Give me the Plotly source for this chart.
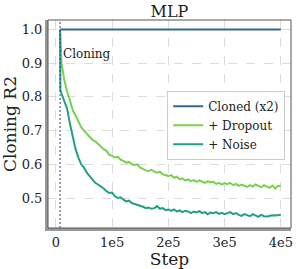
import plotly.graph_objects as go

steps_drop = [7500, 10000, 15000, 20000, 25000, 30000, 35000, 40000, 45000, 50000,
              55000, 60000, 65000, 70000, 75000, 80000, 85000, 90000, 95000, 100000,
              105000, 110000, 115000, 120000, 125000, 130000, 135000, 140000, 145000, 150000,
              155000, 160000, 165000, 170000, 175000, 180000, 185000, 190000, 195000, 200000,
              205000, 210000, 215000, 220000, 225000, 230000, 235000, 240000, 245000, 250000,
              255000, 260000, 265000, 270000, 275000, 280000, 285000, 290000, 295000, 300000,
              305000, 310000, 315000, 320000, 325000, 330000, 335000, 340000, 345000, 350000,
              355000, 360000, 365000, 370000, 375000, 380000, 385000, 390000, 395000, 400000]
dropout = [1.0, 0.90, 0.85, 0.815, 0.79, 0.76, 0.745, 0.725, 0.71, 0.70,
           0.69, 0.68, 0.672, 0.668, 0.66, 0.652, 0.645, 0.64, 0.628, 0.625,
           0.62, 0.622, 0.614, 0.61, 0.605, 0.607, 0.60, 0.598, 0.60, 0.59,
           0.585, 0.582, 0.58, 0.584, 0.578, 0.575, 0.578, 0.57, 0.568, 0.565,
           0.568, 0.56, 0.563, 0.556, 0.558, 0.552, 0.555, 0.55, 0.553, 0.548,
           0.552, 0.549, 0.545, 0.55, 0.546, 0.548, 0.542, 0.545, 0.54, 0.544,
           0.541, 0.545, 0.538, 0.542, 0.536, 0.54, 0.537, 0.533, 0.538, 0.534,
           0.54, 0.535, 0.532, 0.538, 0.533, 0.53, 0.537, 0.528, 0.536, 0.535]

steps_noise = [7500, 8000, 10000, 15000, 20000, 25000, 30000, 35000, 40000, 45000, 50000,
               55000, 60000, 65000, 70000, 75000, 80000, 85000, 90000, 95000, 100000,
               105000, 110000, 115000, 120000, 125000, 130000, 135000, 140000, 145000, 150000,
               155000, 160000, 165000, 170000, 175000, 180000, 185000, 190000, 195000, 200000,
               205000, 210000, 215000, 220000, 225000, 230000, 235000, 240000, 245000, 250000,
               255000, 260000, 265000, 270000, 275000, 280000, 285000, 290000, 295000, 300000,
               305000, 310000, 315000, 320000, 325000, 330000, 335000, 340000, 345000, 350000,
               355000, 360000, 365000, 370000, 375000, 380000, 385000, 390000, 395000, 400000]
noise = [1.0, 0.82, 0.81, 0.79, 0.765, 0.72, 0.68, 0.645, 0.62, 0.60, 0.59,
         0.575, 0.565, 0.555, 0.545, 0.54, 0.535, 0.528, 0.52, 0.515, 0.516,
         0.505, 0.50, 0.502, 0.495, 0.49, 0.492, 0.485, 0.482, 0.48, 0.478,
         0.474, 0.47, 0.472, 0.468, 0.47, 0.476, 0.468, 0.47, 0.464, 0.466,
         0.462, 0.466, 0.46, 0.463, 0.458, 0.462, 0.46, 0.455, 0.46, 0.457,
         0.461, 0.455, 0.458, 0.452, 0.457, 0.455, 0.458, 0.453, 0.456, 0.452,
         0.455, 0.458, 0.452, 0.455, 0.45, 0.447, 0.452, 0.449, 0.446, 0.452,
         0.448, 0.444, 0.45, 0.446, 0.445, 0.447, 0.449, 0.448, 0.45, 0.45]

steps_cloned = [7500, 400000]
cloned = [1.0, 1.0]

clone_step = 7500
x_ticks = [0, 100000, 200000, 300000, 400000]
x_tick_labels = ["0", "1e5", "2e5", "3e5", "4e5"]
y_ticks = [0.5, 0.6, 0.7, 0.8, 0.9, 1.0]
y_tick_labels = ["0.5", "0.6", "0.7", "0.8", "0.9", "1.0"]

FONT = "DejaVu Serif"

fig = go.Figure()
fig.add_trace(go.Scatter(x=steps_cloned, y=cloned, mode="lines", name="Cloned (x2)",
                         line=dict(color="#31688e", width=2)))
fig.add_trace(go.Scatter(x=steps_drop, y=dropout, mode="lines", name="+ Dropout",
                         line=dict(color="#7ad151", width=2)))
fig.add_trace(go.Scatter(x=steps_noise, y=noise, mode="lines", name="+ Noise",
                         line=dict(color="#21a085", width=2)))

fig.add_vline(x=clone_step, line=dict(color="#3d3d8f", width=1, dash="2px,2px"))
fig.add_annotation(x=clone_step, y=0.9, xref="x", yref="y", text="Cloning",
                   showarrow=False, xanchor="left", yanchor="bottom", xshift=1,
                   font=dict(family=FONT, size=12, color="#222"))

# thin frame (top/right spines)
fig.add_shape(type="rect", xref="paper", yref="paper", x0=0, y0=0, x1=1, y1=1,
              line=dict(color="#555", width=1), layer="above")

fig.update_layout(
    width=299, height=269,
    margin=dict(l=47, r=6, t=20, b=40),
    paper_bgcolor="white", plot_bgcolor="white",
    font=dict(family=FONT, color="#222", size=12),
    title=dict(text="MLP", x=0.5, xref="paper", xanchor="center",
               y=1 - 11 / 269, yref="container", yanchor="middle",
               font=dict(family=FONT, size=16, color="#222")),
    showlegend=True,
    legend=dict(x=0.976, y=0.66, xanchor="right", yanchor="top",
                bgcolor="rgba(255,255,255,0.9)", bordercolor="#ccc", borderwidth=1,
                font=dict(family=FONT, size=12, color="#222"),
                tracegroupgap=0, itemwidth=30),
    xaxis=dict(range=[-14000, 418000], tickvals=x_ticks, ticktext=x_tick_labels,
               showgrid=True, gridcolor="#dcdcdc", griddash="dash", gridwidth=1,
               zeroline=False, showline=True, linecolor="#999", linewidth=3,
               ticks="", tickfont=dict(family=FONT, size=13, color="#222"),
               title=dict(text="Step", font=dict(family=FONT, size=17, color="#222"),
                          standoff=2)),
    yaxis=dict(range=[0.411, 1.028], tickvals=y_ticks, ticktext=y_tick_labels,
               showgrid=True, gridcolor="#dcdcdc", griddash="dash", gridwidth=1,
               zeroline=False, showline=True, linecolor="#999", linewidth=3,
               ticks="", tickfont=dict(family=FONT, size=13, color="#222"),
               title=dict(text="Cloning R2", font=dict(family=FONT, size=17, color="#222"),
                          standoff=4)),
)

fig.write_html("out.html", config={"displayModeBar": False})
with open("out.html", "r", encoding="utf-8") as f:
    html = f.read()
html = html.replace("<head>", "<head><style>html,body{margin:0;padding:0;overflow:hidden;}</style>", 1)
with open("out.html", "w", encoding="utf-8") as f:
    f.write(html)
